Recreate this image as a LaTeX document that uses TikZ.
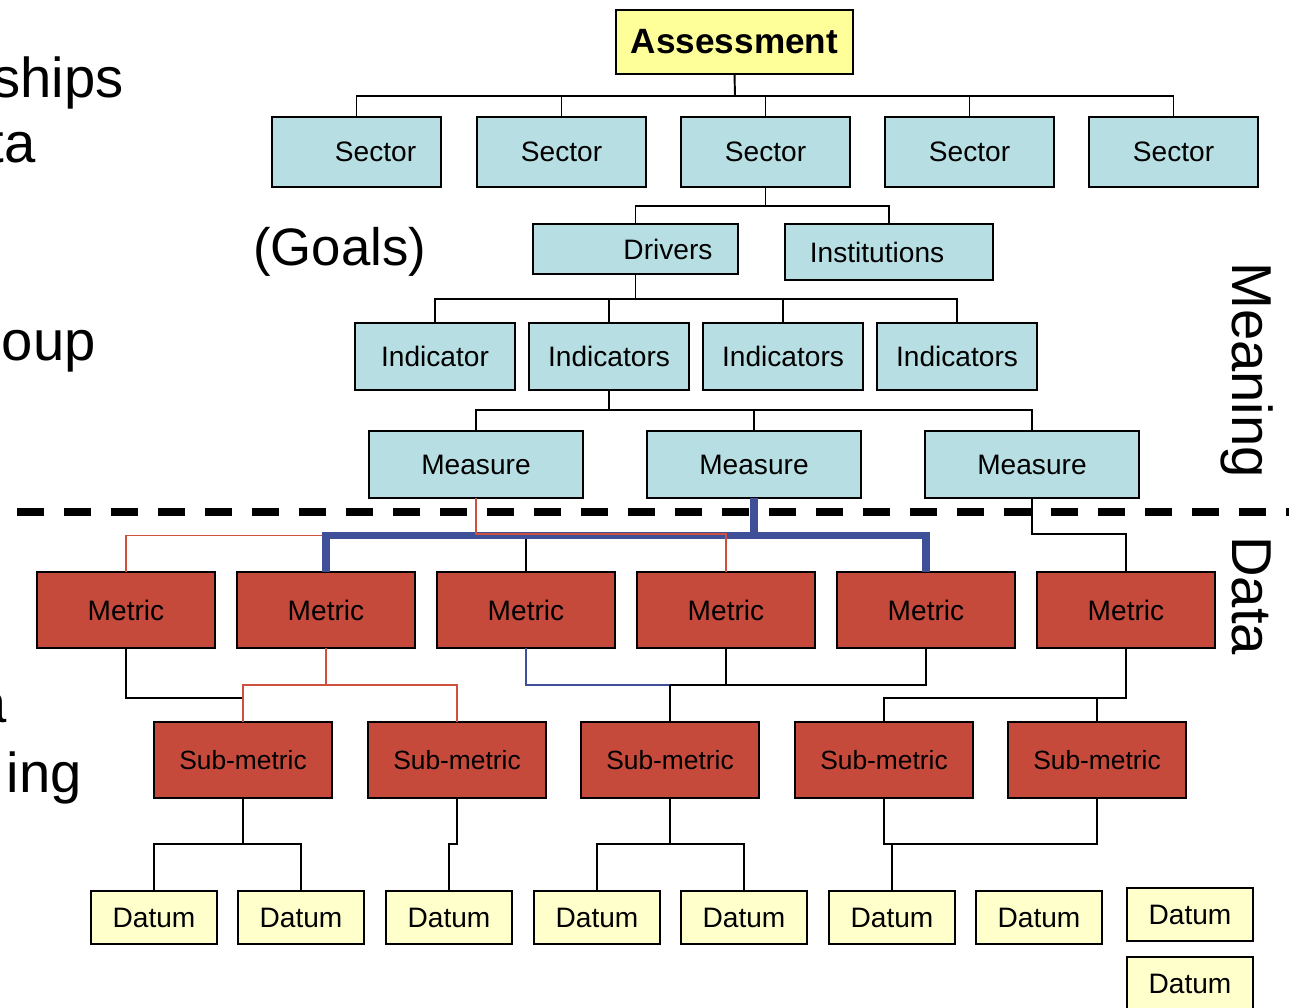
\documentclass[tikz,border=0pt]{standalone}
\usepackage{fontspec}
\setmainfont{Liberation Sans}
\definecolor{headyellow}{HTML}{FFFF99}
\definecolor{datumyellow}{HTML}{FFFFCC}
\definecolor{sectorblue}{HTML}{B7DFE3}
\definecolor{metricred}{HTML}{C54A3C}
\definecolor{linkred}{HTML}{D05040}
\definecolor{linkblue}{HTML}{405098}
\tikzset{
  boxline/.style={draw=black, line width=1.1pt, inner sep=0pt, outer sep=0pt,
    font=\fontsize{16}{19}\selectfont},
  topbox/.style={boxline, fill=headyellow, minimum width=4.74cm, minimum height=1.28cm,
    font=\fontsize{20}{24}\selectfont\bfseries},
  sectorbox/.style={boxline, fill=sectorblue, minimum width=3.38cm, minimum height=1.40cm},
  indbox/.style={boxline, fill=sectorblue, minimum width=3.20cm, minimum height=1.34cm},
  measurebox/.style={boxline, fill=sectorblue, minimum width=4.28cm, minimum height=1.34cm},
  metricbox/.style={boxline, fill=metricred, minimum width=3.56cm, minimum height=1.52cm},
  submetricbox/.style={metricbox, font=\fontsize{15}{18}\selectfont},
  datumbox/.style={boxline, fill=datumyellow, minimum width=2.52cm, minimum height=1.06cm},
  bigtext/.style={inner sep=0pt, font=\fontsize{32}{38}\selectfont},
  link/.style={draw=black, line width=1.1pt},
  redlink/.style={draw=linkred, line width=1.1pt},
  bluelink/.style={draw=linkblue, line width=1.1pt},
  bluethick/.style={draw=linkblue, line width=4.2pt},
  divider/.style={draw=black, line width=4pt, dash pattern=on 0.54cm off 0.40cm}
}
\begin{document}
\begin{tikzpicture}[x=0.02cm, y=-0.02cm]
  \useasboundingbox (0,0) rectangle (1289,1008);
  \clip (0,0) rectangle (1289,1008);
  % cut-off words at the left
  \node[bigtext, anchor=base east] (tships) at (124,97) {ships};
  \node[bigtext, anchor=base east] (tta) at (36,162) {ta};
  \node[bigtext, anchor=base east] (toup) at (96,360) {oup};
  \node[bigtext, anchor=base east] (ta) at (7,722) {a};
  \node[bigtext, anchor=base east] (ting) at (82,792) {ing};
  \node[bigtext, anchor=base west, font=\fontsize{30}{36}\selectfont] (goals) at (253,265) {(Goals)};
  % side labels
  \node[bigtext, rotate=-90, anchor=base west] (meaning) at (1232,262) {Meaning};
  \node[bigtext, rotate=-90, anchor=base west] (data) at (1232,536) {Data};
  % top
  \node[topbox] (asm) at (734.5,42) {Assessment};
  % sectors
  \node[sectorbox] (s1) at (356.5,152) {\hspace*{0.76cm}Sector};
  \node[sectorbox] (s2) at (561.5,152) {Sector};
  \node[sectorbox] (s3) at (765.5,152) {Sector};
  \node[sectorbox] (s4) at (969.5,152) {Sector};
  \node[sectorbox] (s5) at (1173.5,152) {Sector};
  % drivers and institutions
  \node[boxline, fill=sectorblue, minimum width=4.10cm, minimum height=1.00cm] (drv) at (635.5,249) {\hspace*{1.3cm}Drivers};
  \node[boxline, fill=sectorblue, minimum width=4.16cm, minimum height=1.12cm] (ins) at (889,252) {Institutions\hspace*{0.48cm}};
  % indicators
  \node[indbox] (ind1) at (435,356.5) {Indicator};
  \node[indbox] (ind2) at (609,356.5) {Indicators};
  \node[indbox] (ind3) at (783,356.5) {Indicators};
  \node[indbox] (ind4) at (957,356.5) {Indicators};
  % measures
  \node[measurebox] (ms1) at (476,464.5) {Measure};
  \node[measurebox] (ms2) at (754,464.5) {Measure};
  \node[measurebox] (ms3) at (1032,464.5) {Measure};
  % metrics
  \node[metricbox] (m1) at (126,610) {Metric};
  \node[metricbox] (m2) at (326,610) {Metric};
  \node[metricbox] (m3) at (526,610) {Metric};
  \node[metricbox] (m4) at (726,610) {Metric};
  \node[metricbox] (m5) at (926,610) {Metric};
  \node[metricbox] (m6) at (1126,610) {Metric};
  % sub-metrics
  \node[submetricbox] (sm1) at (243,760) {Sub-metric};
  \node[submetricbox] (sm2) at (457,760) {Sub-metric};
  \node[submetricbox] (sm3) at (670,760) {Sub-metric};
  \node[submetricbox] (sm4) at (884,760) {Sub-metric};
  \node[submetricbox] (sm5) at (1097,760) {Sub-metric};
  % data
  \node[datumbox] (d1) at (154,917.5) {Datum};
  \node[datumbox] (d2) at (301,917.5) {Datum};
  \node[datumbox] (d3) at (449,917.5) {Datum};
  \node[datumbox] (d4) at (597,917.5) {Datum};
  \node[datumbox] (d5) at (744,917.5) {Datum};
  \node[datumbox] (d6) at (892,917.5) {Datum};
  \node[datumbox] (d7) at (1039,917.5) {Datum};
  \node[datumbox] (d8) at (1190,914.5) {Datum};
  \node[datumbox] (d9) at (1190,983.5) {Datum};
  % meaning / data line
  \draw[divider] (17,512) -- (1289,512);
  % assessment to sectors
  \draw[link] (asm.south) -- (735,96) coordinate (hub0);
  \draw[link] (hub0) -| (s1.north);
  \draw[link] (hub0) -| (s2.north);
  \draw[link] (hub0) -| (s3.north);
  \draw[link] (hub0) -| (s4.north);
  \draw[link] (hub0) -| (s5.north);
  % sector to drivers, institutions
  \draw[link] (s3.south) -- ++(0,19) coordinate (hub1);
  \draw[link] (hub1) -| (drv.north);
  \draw[link] (hub1) -| (ins.north);
  % drivers to indicators
  \draw[link] (drv.south) -- ++(0,25) coordinate (hub2);
  \draw[link] (hub2) -| (ind1.north);
  \draw[link] (hub2) -| (ind2.north);
  \draw[link] (hub2) -| (ind3.north);
  \draw[link] (hub2) -| (ind4.north);
  % indicators to measures
  \draw[link] (ind2.south) -- ++(0,20) coordinate (hub3);
  \draw[link] (hub3) -| (ms1.north);
  \draw[link] (hub3) -| (ms2.north);
  \draw[link] (hub3) -| (ms3.north);
  % measures to metrics
  \coordinate (bluebar) at (754,535.5);
  \draw[redlink] (m1.north) |- (bluebar -| m2.north);
  \draw[link] (m3.north) -- (m3.north |- bluebar);
  \draw[bluethick] (ms2.south) -- (bluebar);
  \draw[bluethick, line join=miter] (m2.north) |- (bluebar) -| (m5.north);
  \draw[redlink] (ms1.south) -- ++(0,36) -| (m4.north);
  \draw[link] (ms3.south) -- ++(0,36) -| (m6.north);
  % metrics to sub-metrics
  \coordinate (j1) at (243,698);
  \draw[link] (m1.south) |- (j1);
  \draw[redlink] (m2.south) -- ++(0,37) coordinate (hub5);
  \draw[redlink] (hub5) -| (sm1.north);
  \draw[redlink] (hub5) -| (sm2.north);
  \draw[bluelink] (m3.south) |- (sm3.north |- hub5);
  \draw[link] (m4.south) |- (sm3.north |- hub5);
  \draw[link] (m5.south) |- (sm3.north |- hub5);
  \draw[link] (sm3.north) -- (sm3.north |- hub5);
  \draw[link] (m6.south) -- ++(0,50) -| (sm4.north);
  \draw[link] (sm5.north) -- ++(0,-24);
  % sub-metrics to data
  \draw[link] (sm1.south) -- ++(0,46) coordinate (hub6);
  \draw[link] (hub6) -| (d1.north);
  \draw[link] (hub6) -| (d2.north);
  \draw[link] (sm2.south) -- ++(0,46) -| (d3.north);
  \draw[link] (sm3.south) -- ++(0,46) coordinate (hub7);
  \draw[link] (hub7) -| (d4.north);
  \draw[link] (hub7) -| (d5.north);
  \draw[link] (sm4.south) -- ++(0,46) -| (sm5.south);
  \draw[link] (d6.north) -- (d6.north |- hub7);
\end{tikzpicture}
\end{document}
